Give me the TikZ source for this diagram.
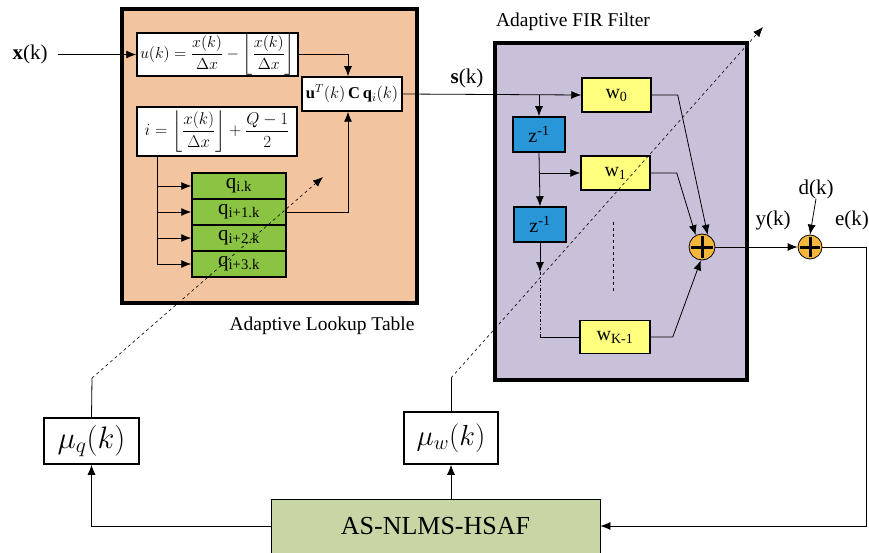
\RequirePackage{fix-cm}
\documentclass[tikz,border=0pt]{standalone}
\usepackage{fontspec}
\setmainfont{Liberation Serif}
\usepackage{amsmath}
\usetikzlibrary{arrows.meta,positioning}

\definecolor{lutpeach}{RGB}{242,196,160}
\definecolor{firlilac}{RGB}{200,193,217}
\definecolor{wyellow}{RGB}{255,255,125}
\definecolor{zblue}{RGB}{40,150,215}
\definecolor{qgreen}{RGB}{138,196,66}
\definecolor{sumorange}{RGB}{245,182,60}
\definecolor{algolive}{RGB}{200,214,166}

\tikzset{
	blk/.style={draw,line width=1.5pt,inner sep=0pt,anchor=center},
	big/.style={draw,line width=3.5pt,inner sep=0pt,anchor=center},
	sumnode/.style={draw,circle,line width=0.8pt,fill=sumorange,minimum size=#1,inner sep=0pt},
	arr/.style={-{Latex[length=10pt,width=8pt]},line width=0.8pt},
	lbl/.style={font=\fontsize{21}{25}\selectfont,inner sep=0pt},
	capt/.style={font=\fontsize{19.5}{23}\selectfont,inner sep=0pt},
}

\begin{document}
\begin{tikzpicture}[x=1pt,y=-1pt]
	\useasboundingbox (0,0) rectangle (869,553);

	\node[big,fill=lutpeach,minimum width=295,minimum height=294] (lut) at (269.5,156) {};
	\node[big,fill=firlilac,minimum width=252,minimum height=337] (fir) at (621,211.5) {};
	\node[capt] (lutlbl) at (322,326) {Adaptive Lookup Table};
	\node[capt] (firlbl) at (573,22) {Adaptive FIR Filter};

	\node[blk,fill=white,minimum width=161,minimum height=43,font=\fontsize{16}{19}\selectfont] (uk) at (217.5,54.5)
		{$\displaystyle u(k)=\frac{x(k)}{\Delta x}-\left\lfloor\frac{x(k)}{\Delta x}\right\rfloor$};
	\node[blk,fill=white,minimum width=160,minimum height=49,font=\fontsize{17}{20}\selectfont] (ib) at (217,131.5)
		{$\displaystyle i=\left\lfloor\frac{x(k)}{\Delta x}\right\rfloor+\frac{Q-1}{2}$};
	\node[blk,fill=white,minimum width=100,minimum height=34,font=\fontsize{16.5}{19}\selectfont] (ucq) at (352,94)
		{$\mathbf{u}^T(k)\,\mathbf{C}\,\mathbf{q}_i(k)$};

	\foreach \n/\s/\y in {0/i.k/186,1/i+1.k/212,2/i+2.k/238,3/i+3.k/264}
		\node[blk,fill=qgreen,minimum width=94,minimum height=26,font=\fontsize{21}{22}\selectfont] (q\n) at (239,\y)
			{q\textsubscript{\s}};

	\node[lbl] (xk) at (30,54.5) {\textbf{x}(k)};
	\node[lbl] (sk) at (467,78) {\textbf{s}(k)};

	\node[blk,fill=wyellow,minimum width=69,minimum height=34,font=\fontsize{20}{22}\selectfont] (w0) at (616.5,95) {w\textsubscript{0}};
	\node[blk,fill=wyellow,minimum width=69,minimum height=34,font=\fontsize{20}{22}\selectfont] (w1) at (615.5,173) {w\textsubscript{1}};
	\node[blk,fill=wyellow,minimum width=70,minimum height=33,font=\fontsize{20}{22}\selectfont] (wk) at (615,337) {w\textsubscript{K-1}};
	\node[blk,fill=zblue,minimum width=52,minimum height=35,font=\fontsize{20}{22}\selectfont] (z1) at (539,134.5) {z\textsuperscript{-1}};
	\node[blk,fill=zblue,minimum width=52,minimum height=35,font=\fontsize{20}{22}\selectfont] (z2) at (540,224.5) {z\textsuperscript{-1}};

	\node[sumnode=26pt] (sum1) at (702,247) {};
	\node[sumnode=24pt] (sum2) at (810,247) {};
	\foreach \s in {sum1,sum2}
		\draw[line width=3pt] ([yshift=-2pt]\s.north) -- ([yshift=2pt]\s.south)
			([xshift=2pt]\s.west) -- ([xshift=-2pt]\s.east);

	\node[lbl] (yk) at (773,220) {y(k)};
	\node[lbl] (dk) at (816,189) {d(k)};
	\node[lbl] (ek) at (852,220) {e(k)};

	\node[blk,fill=white,minimum width=95,minimum height=46,font=\fontsize{31}{35}\selectfont] (mq) at (91.5,441) {$\mu_q(k)$};
	\node[blk,fill=white,minimum width=94,minimum height=52,font=\fontsize{29}{33}\selectfont] (mw) at (451,438) {$\mu_w(k)$};
	\node[draw,line width=0.8pt,fill=algolive,minimum width=329,minimum height=54,inner sep=0pt,font=\fontsize{26}{30}\selectfont] (hsaf) at (435.5,526) {AS-NLMS-HSAF};

	\coordinate (ibr) at (157,156);
	\coordinate (tap) at (539,95);
	\coordinate (zt) at (540,272);
	\coordinate (ec) at (866,526);
	\coordinate (mqk) at (92,378);
	\coordinate (mqt) at (323,177);
	\coordinate (mwk) at (451,378);
	\coordinate (mwt) at (763,27);

	\draw[arr] ([xshift=10pt]xk.east) -- (uk.west);
	\draw[arr] (uk.east) -| ([xshift=-4pt]ucq.north);
	\foreach \n in {0,1,2,3}
		\draw[arr] (ibr) |- (q\n.west);
	\draw[arr] (q1.east) -| ([xshift=-4pt]ucq.south);
	\draw[arr] (ucq.east) -- (w0.west);
	\draw[arr] (tap) -- (z1.north);
	\draw[arr] (z1.south) -- (z2.north);
	\draw[arr] (z1.south |- w1.west) -- (w1.west);
	\draw[arr] (z2.south) -- (zt);
	\draw[line width=0.8pt,dash dot] (zt) -- (zt |- wk.west);
	\draw[line width=0.8pt] (zt |- wk.west) -- (wk.west);
	\draw[line width=0.8pt,dashed] (613,222) -- (613,292);

	\draw[arr] (w0.east) -- ++(26,0) -- (sum1.65);
	\draw[arr] (w1.east) -- ++(26,0) -- (sum1.118);
	\draw[arr] (wk.east) -- ++(22,0) -- (sum1.265);
	\draw[arr] (sum1.east) -- (sum2.west);
	\draw[arr] (dk.south) -- (sum2.north);
	\draw[arr] (sum2.east) -| (ec) -- (hsaf.east);

	\draw[arr] (hsaf.west) -| (mq.south);
	\draw[arr] (mw.south |- hsaf.north) -- (mw.south);
	\draw[line width=0.8pt] (mq.north) -- (mqk);
	\draw[arr,dashed,line width=0.6pt] (mqk) -- (mqt);
	\draw[line width=0.8pt] (mw.north) -- (mwk);
	\draw[arr,dashed,line width=0.6pt] (mwk) -- (mwt);
\end{tikzpicture}
\end{document}
